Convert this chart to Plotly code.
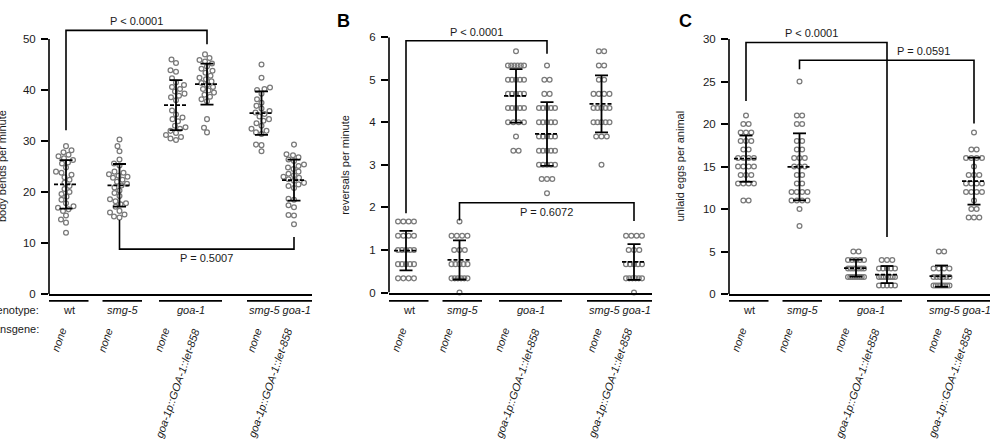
import numpy as np
import plotly.graph_objects as go

# ---------------------------------------------------------------- data
genotype_labels = ["wt", "<i>smg-5</i>", "<i>goa-1</i>", "<i>smg-5 goa-1</i>"]
transgene_labels = ["<i>none</i>", "<i>none</i>", "<i>none</i>",
                    "<i>goa-1p::GOA-1::let-858</i>", "<i>none</i>",
                    "<i>goa-1p::GOA-1::let-858</i>"]

# Panel A: body bends per minute
bends_wt = [29.0, 28.2, 27.8, 27.3, 27.0, 26.6, 26.3, 25.8, 25.6, 24.8, 24.0, 23.8, 23.4, 22.9,
            22.4, 21.8, 21.2, 20.6, 20.0, 19.6, 19.1, 18.5, 17.8, 17.2, 16.9, 16.6, 16.3, 15.4,
            14.6, 14.0, 12.0]
bends_smg5 = [30.3, 29.0, 28.0, 26.4, 25.6, 25.2, 24.0, 23.8, 23.5, 23.2, 23.0, 22.8, 22.4, 22.0,
              21.6, 21.3, 20.9, 20.3, 19.8, 18.6, 18.2, 17.8, 19.2, 17.1, 17.6, 16.3, 16.0, 15.6,
              15.2, 15.0]
bends_goa1 = [46.0, 45.3, 43.9, 43.6, 42.3, 41.5, 41.0, 40.6, 40.2, 39.7, 39.3, 38.9, 38.6, 38.0,
              36.0, 35.2, 34.6, 34.3, 33.9, 33.0, 32.7, 32.4, 32.0, 31.6, 31.2, 30.8, 30.5, 30.2]
bends_goa1_tg = [47.0, 46.3, 45.9, 45.6, 45.2, 44.6, 44.2, 43.8, 43.4, 42.8, 42.4, 42.1, 41.7,
                 41.4, 41.0, 40.6, 40.2, 39.9, 39.5, 39.1, 38.7, 38.2, 37.8, 34.3, 32.6, 31.7]
bends_smg5goa1 = [45.0, 42.4, 40.5, 40.2, 40.0, 39.3, 38.2, 37.5, 36.9, 36.4, 35.9, 35.6, 35.3,
                  34.8, 34.3, 34.0, 33.5, 33.0, 32.4, 32.0, 31.7, 31.4, 29.3, 29.2, 28.0]
bends_smg5goa1_tg = [29.3, 27.4, 27.2, 26.8, 26.4, 26.1, 25.4, 25.1, 24.8, 24.5, 24.0, 23.6, 23.3,
                     23.0, 22.8, 22.5, 22.2, 21.8, 21.5, 21.2, 20.8, 18.7, 18.5, 17.4, 17.0, 15.5,
                     15.4, 13.7]

# Panel B: reversals per minute
rev_wt = [1.667, 1.667, 1.667, 1.667, 1.333, 1.333, 1.333, 1.333, 1.0, 1.0, 1.0, 1.0, 1.0,
          0.667, 0.667, 0.667, 0.667, 0.667, 0.333, 0.333, 0.333, 0.333]
rev_smg5 = [1.667, 1.333, 1.333, 1.333, 1.333, 1.0, 1.0, 1.0, 0.667, 0.667, 0.667, 0.667, 0.667,
            0.333, 0.333, 0.333, 0.333, 0.333, 0.333, 0.0]
rev_goa1 = [5.667, 5.333, 5.333, 5.333, 5.333, 5.333, 5.333, 5.0, 5.0, 5.0, 5.0, 5.0,
            4.667, 4.667, 4.667, 4.667, 4.667, 4.333, 4.333, 4.333, 4.333, 4.333,
            4.0, 4.0, 4.0, 4.0, 3.667, 3.333, 3.333]
rev_goa1_tg = [5.333, 5.0, 5.0, 4.667, 4.667, 4.333, 4.333, 4.333, 4.333, 4.333,
               4.0, 4.0, 4.0, 4.0, 4.0, 3.667, 3.667, 3.667, 3.667, 3.667,
               3.333, 3.333, 3.333, 3.333, 3.333, 3.0, 3.0, 3.0, 3.0, 3.0,
               2.667, 2.667, 2.667, 2.333]
rev_smg5goa1 = [5.667, 5.667, 5.333, 5.333, 5.0, 5.0, 4.667, 4.667, 4.667, 4.667,
                4.333, 4.333, 4.333, 4.333, 4.333, 4.0, 4.0, 4.0, 4.0, 4.0,
                3.667, 3.667, 3.667, 3.0]
rev_smg5goa1_tg = [1.333, 1.333, 1.333, 1.333, 1.0, 1.0, 1.0, 0.667, 0.667, 0.667, 0.667, 0.667,
                   0.333, 0.333, 0.333, 0.333, 0.333, 0.333, 0.0]

# Panel C: unlaid eggs per animal
eggs_wt = [21, 20, 20, 19, 19, 19, 18, 18, 18, 17, 17, 16, 16, 16, 16, 15, 15, 15, 15,
           14, 14, 14, 13, 13, 13, 13, 11, 11]
eggs_smg5 = [25, 21, 21, 20, 20, 18, 18, 17, 17, 16, 16, 16, 15, 15, 15, 14, 14, 13, 13,
             12, 12, 12, 12, 11, 11, 11, 11, 10, 8]
eggs_goa1 = [5, 5, 4, 4, 4, 4, 4, 3, 3, 3, 3, 3, 3, 3, 2, 2, 2, 2, 2, 2, 2, 2]
eggs_goa1_tg = [4, 4, 4, 3, 3, 3, 3, 3, 2, 2, 2, 2, 2, 2, 2, 2, 1, 1, 1, 1, 1]
eggs_smg5goa1 = [5, 5, 3, 3, 3, 3, 2, 2, 2, 2, 2, 2, 1, 1, 1, 1, 1, 1, 1, 1]
eggs_smg5goa1_tg = [19, 17, 17, 16, 16, 16, 16, 15, 14, 14, 14, 13, 13, 13, 13,
                    12, 12, 12, 12, 11, 10, 10, 9, 9, 9]

panel_letters = ["A", "B", "C"]
y_titles = ["body bends per minute", "reversals per minute", "unlaid eggs per animal"]
y_ticks = [[0, 10, 20, 30, 40, 50], [0, 1, 2, 3, 4, 5, 6], [0, 5, 10, 15, 20, 25, 30]]
panel_data = [
    [bends_wt, bends_smg5, bends_goa1, bends_goa1_tg, bends_smg5goa1, bends_smg5goa1_tg],
    [rev_wt, rev_smg5, rev_goa1, rev_goa1_tg, rev_smg5goa1, rev_smg5goa1_tg],
    [eggs_wt, eggs_smg5, eggs_goa1, eggs_goa1_tg, eggs_smg5goa1, eggs_smg5goa1_tg],
]
# brackets: (group i, group j, line level, left leg end, right leg end, label)
p_brackets = [
    [(0, 3, 51.7, 32.1, 49.0, "P < 0.0001"), (1, 5, 8.8, 14.5, 11.2, "P = 0.5007")],
    [(0, 3, 5.915, 1.86, 5.61, "P < 0.0001"), (1, 5, 2.11, 1.69, 1.68, "P = 0.6072")],
    [(0, 3, 29.6, 22.7, 6.7, "P < 0.0001"), (1, 5, 27.5, 26.45, 20.07, "P = 0.0591")],
]

# ---------------------------------------------------------------- layout constants
W, H = 990, 444
FONT = "Arial, 'Liberation Sans', Helvetica, sans-serif"
POS = [17, 70.5, 127, 158, 212.5, 245]             # column positions (axis units = px)
BARS = [(0, 39.5), (53.5, 93), (110, 173), (198, 263)]
TG_X = [22, 68.5, 125, 155.5, 217.5, 248]
AX_LEFT = [49, 389, 729]
AX_LEN = 263
Y0_PX = [296, 294.5, 296]
YTOP_PX = [34, 32, 34]
YMAX = [50, 6, 30]
RANGE_TOP = [53, 6, 30]
TEXT_X = [[None, None], [None, None], [82, 194]]
TEXT_SIDE = [[1, -1], [1, -1], [1, 1]]
DISCRETE = [False, True, True]
YTITLE_X = [1.5, 345, 680]
LETTER_X = [2, 335, 677]


def beeswarm(values, unit_px, d=5.5, maxoff=10.5):
    y = np.asarray(values, float) * unit_px
    order = np.argsort(y, kind="stable")
    cands = np.arange(-maxoff, maxoff + 1e-9, 0.5)
    cands = cands[np.argsort(np.abs(cands), kind="stable")]
    px_, py_ = [], []
    offs = np.zeros(len(y))
    for n, i in enumerate(order):
        if px_:
            ax = np.array(px_)
            ay = np.array(py_)
            dist2 = (cands[:, None] - ax[None, :]) ** 2 + (y[i] - ay[None, :]) ** 2
            mind = dist2.min(axis=1)
            ok = np.where(mind >= d * d)[0]
            c = cands[ok[0]] if len(ok) else cands[np.argmax(mind)]
        else:
            c = 0.0
        offs[i] = c
        px_.append(c)
        py_.append(y[i])
    return offs


def rows(values, step=5.3, maxoff=8.0):
    v = np.round(np.asarray(values, float), 2)
    offs = np.zeros(len(v))
    for u in np.unique(v):
        idx = np.where(v == u)[0]
        k = len(idx)
        if k > 1:
            s = min(step, 2 * maxoff / (k - 1))
            offs[idx] = (np.arange(k) - (k - 1) / 2) * s
    return offs


fig = go.Figure()
shapes, annotations = [], []
layout = {}

for k in range(3):
    xa = "x" if k == 0 else f"x{k+1}"
    ya = "y" if k == 0 else f"y{k+1}"
    scale = (Y0_PX[k] - YTOP_PX[k]) / YMAX[k]
    top_px = Y0_PX[k] - RANGE_TOP[k] * scale
    right_px = min(AX_LEFT[k] + AX_LEN, W)
    layout["xaxis" if k == 0 else f"xaxis{k+1}"] = dict(
        domain=[AX_LEFT[k] / W, right_px / W], range=[0, right_px - AX_LEFT[k]],
        showline=True, linewidth=1.6, linecolor="black", showgrid=False, zeroline=False,
        showticklabels=False, ticks="", anchor=ya, fixedrange=True)
    layout["yaxis" if k == 0 else f"yaxis{k+1}"] = dict(
        domain=[1 - Y0_PX[k] / H, 1 - top_px / H], range=[0, RANGE_TOP[k]],
        showline=False, showgrid=False, zeroline=False, anchor=xa,
        tickmode="array", tickvals=y_ticks[k], ticks="outside", ticklen=7, tickwidth=1.6,
        tickcolor="black", tickfont=dict(family=FONT, size=11.5, color="#1a1a1a"),
        ticklabelstandoff=3, fixedrange=True)
    # y axis line up to top tick
    shapes.append(dict(type="line", xref=f"{xa} domain", yref=ya, x0=0, x1=0, y0=0,
                       y1=YMAX[k], line=dict(color="black", width=1.6)))

    for i, vals in enumerate(panel_data[k]):
        offs = rows(vals) if DISCRETE[k] else beeswarm(vals, scale)
        fig.add_trace(go.Scatter(
            x=POS[i] + offs, y=vals, mode="markers", xaxis=xa, yaxis=ya, cliponaxis=False,
            marker=dict(symbol="circle-open", size=4.8, color="#7a7a7a",
                        line=dict(width=1.25, color="#7a7a7a")),
            hoverinfo="skip"))
    for i, vals in enumerate(panel_data[k]):
        m = float(np.mean(vals))
        sd = float(np.std(vals, ddof=1))
        p = POS[i]
        fig.add_trace(go.Scatter(
            x=[p, p, None, p - 6.5, p + 6.5, None, p - 6.5, p + 6.5],
            y=[m - sd, m + sd, None, m + sd, m + sd, None, m - sd, m - sd],
            mode="lines", line=dict(color="black", width=1.8), xaxis=xa, yaxis=ya,
            hoverinfo="skip"))
        fig.add_trace(go.Scatter(
            x=[p - 12, p + 12], y=[m, m], mode="lines",
            line=dict(color="black", width=1.8, dash="4px,2px"), xaxis=xa, yaxis=ya,
            hoverinfo="skip"))

    # brackets with P values
    for b, (i, j, yl, ye_i, ye_j, lab) in enumerate(p_brackets[k]):
        xi, xj = POS[i], POS[j]
        shapes.append(dict(type="path", xref=xa, yref=ya,
                           path=f"M {xi},{ye_i} L {xi},{yl} L {xj},{yl} L {xj},{ye_j}",
                           line=dict(color="black", width=1.6)))
        tx = TEXT_X[k][b] if TEXT_X[k][b] is not None else (xi + xj) / 2
        annotations.append(dict(xref=xa, yref=ya, x=tx, y=yl, text=lab, showarrow=False,
                                xanchor="center", yanchor="middle", yshift=9 * TEXT_SIDE[k][b],
                                font=dict(family=FONT, size=11, color="#1a1a1a")))

    # genotype bars / labels
    for g, (x0, x1) in enumerate(BARS):
        shapes.append(dict(type="line", xref=xa, yref="paper", x0=x0, x1=x1,
                           y0=1 - 303 / H, y1=1 - 303 / H,
                           line=dict(color="black", width=1.8)))
        annotations.append(dict(xref=xa, yref="paper", x=(x0 + x1) / 2, y=1 - 312 / H,
                                text=genotype_labels[g], showarrow=False, xanchor="center",
                                yanchor="middle",
                                font=dict(family=FONT, size=11, color="#1a1a1a")))
    for i, lab in enumerate(transgene_labels):
        annotations.append(dict(xref=xa, yref="paper", x=TG_X[i], y=1 - 327 / H, text=lab,
                                showarrow=False, xanchor="right", yanchor="top", textangle=-71,
                                font=dict(family=FONT, size=11, color="#1a1a1a")))

    # y axis title and panel letter
    annotations.append(dict(xref="paper", yref="paper", x=YTITLE_X[k] / W,
                            y=1 - ((Y0_PX[k] + YTOP_PX[k]) / 2) / H, text=y_titles[k],
                            textangle=-90, showarrow=False, xanchor="center", yanchor="middle",
                            font=dict(family=FONT, size=11, color="#1a1a1a")))
    annotations.append(dict(xref="paper", yref="paper", x=LETTER_X[k] / W, y=1 - 15 / H,
                            text=f"<b>{panel_letters[k]}</b>", showarrow=False,
                            xanchor="right" if k == 0 else "left", yanchor="middle",
                            font=dict(family=FONT, size=18, color="black")))

annotations.append(dict(xref="paper", yref="paper", x=41 / W, y=1 - 312 / H, text="Genotype:",
                        showarrow=False, xanchor="right", yanchor="middle",
                        font=dict(family=FONT, size=11, color="#1a1a1a")))
annotations.append(dict(xref="paper", yref="paper", x=41 / W, y=1 - 332 / H, text="Transgene:",
                        showarrow=False, xanchor="right", yanchor="middle",
                        font=dict(family=FONT, size=11, color="#1a1a1a")))

fig.update_layout(width=W, height=H, margin=dict(l=0, r=0, t=0, b=0), showlegend=False,
                  paper_bgcolor="white", plot_bgcolor="white", shapes=shapes,
                  annotations=annotations, font=dict(family=FONT), **layout)
fig.write_html("out.html", config={"displayModeBar": False})
